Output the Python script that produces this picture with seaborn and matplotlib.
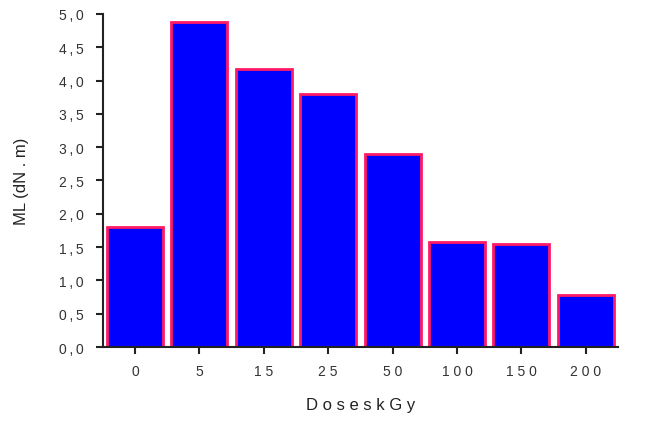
import matplotlib
matplotlib.use("Agg")
import matplotlib.pyplot as plt
import seaborn as sns
import pandas as pd

doses = ["0", "5", "15", "25", "50", "100", "150", "200"]
ml_values = [1.80, 4.88, 4.17, 3.80, 2.90, 1.58, 1.54, 0.78]
y_ticks = [0.0, 0.5, 1.0, 1.5, 2.0, 2.5, 3.0, 3.5, 4.0, 4.5, 5.0]
y_tick_labels = ["0,0", "0,5", "1,0", "1,5", "2,0", "2,5", "3,0", "3,5", "4,0", "4,5", "5,0"]

sns.set_style("ticks")
plt.rcParams["font.family"] = ["Liberation Sans", "DejaVu Sans"]

df = pd.DataFrame({"dose": doses, "ml": ml_values})

fig = plt.figure(figsize=(6.47, 4.27), dpi=100)
ax = fig.add_axes([0.159, 0.185, 0.796, 0.780])

sns.barplot(data=df, x="dose", y="ml", order=doses, color="#0000FF",
            saturation=1, width=0.87, edgecolor="#FF1A66", linewidth=2.0, ax=ax)

ax.set_xlim(-0.5, 7.5)
ax.set_ylim(0, 5.0)
ax.set_yticks(y_ticks)
ax.set_yticklabels(["\u2009".join(t) for t in y_tick_labels])
ax.set_xticks(range(len(doses)))
ax.set_xticklabels([" ".join(d) for d in doses])
ax.tick_params(axis="both", direction="out", length=5, width=1.5, labelsize=10,
               color="#222222", labelcolor="#333333")
ax.tick_params(axis="x", pad=7)
ax.tick_params(axis="y", pad=9)
for side in ["top", "right"]:
    ax.spines[side].set_visible(False)
for side in ["left", "bottom"]:
    ax.spines[side].set_linewidth(1.5)
    ax.spines[side].set_color("#222222")

ax.set_xlabel("D o s e s k G y", fontsize=12, color="#222222", labelpad=14)
ax.set_ylabel("ML (dN . m)", fontsize=12, color="#222222", labelpad=21)

fig.savefig("out.png", dpi=100)
